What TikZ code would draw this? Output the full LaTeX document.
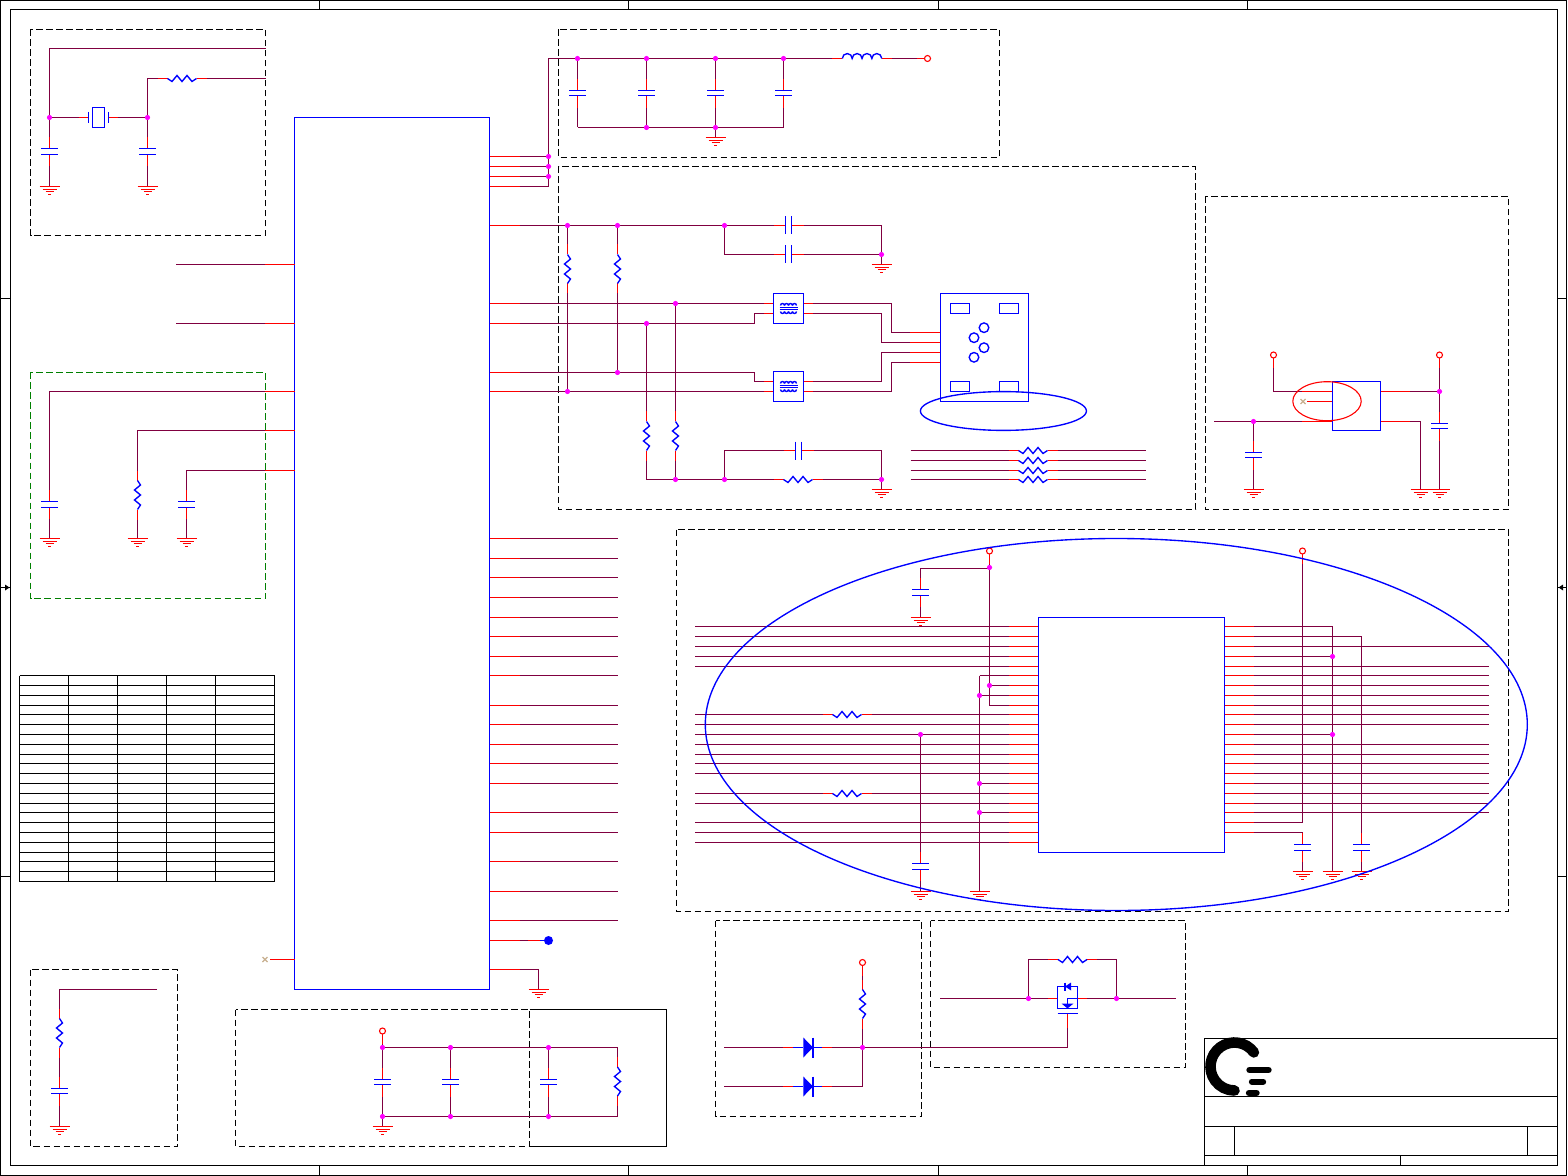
\documentclass[tikz,border=0pt]{standalone}
\definecolor{netc}{RGB}{128,0,64}
\definecolor{xc}{RGB}{200,176,144}
\definecolor{grn}{RGB}{0,128,0}
\definecolor{jnc}{RGB}{255,0,255}
\definecolor{red}{RGB}{255,0,0}
\definecolor{blue}{RGB}{0,0,255}
\tikzset{
 net/.style={draw=netc},
 stub/.style={draw=red},
 sym/.style={draw=blue,line width=0.68pt},
 frame/.style={draw=black},
 dbox/.style={draw=black,dash pattern=on 3.4pt off 1.6pt},
 gbox/.style={draw=grn,dash pattern=on 3.4pt off 1.6pt},
 pics/gndsym/.style={code={
  \draw[stub] (-10,0)--(10,0) (-7,3)--(7,3) (-4,5)--(4,5) (-1.5,8)--(1.5,8);}},
 pics/capv/.style={code={
  \draw[stub] (0,-14.5)--(0,-3) (0,3)--(0,14.5);
  \draw[sym] (-8.5,-3)--(8.5,-3) (-8.5,3)--(8.5,3);}},
 pics/capw/.style={code={
  \draw[stub] (0,-14.5)--(0,-3) (0,2)--(0,14.5);
  \draw[sym] (-8.5,-3)--(8.5,-3) (-8.5,2)--(8.5,2);}},
 pics/caph/.style={code={
  \draw[stub] (-15,0)--(-3,0) (3,0)--(15,0);
  \draw[sym] (-3,-9)--(-3,9) (3,-9)--(3,9);}},
 pics/resh/.style={code={
  \draw[stub] (-24.5,0)--(-14.5,0) (14.5,0)--(24.5,0);
  \draw[sym] (-14.5,0)--(-10,3)--(-5,-3)--(0,3)--(5,-3)--(10,3)--(14.5,0);}},
 pics/diodesym/.style={code={
  \draw[stub] (-24.7,0)--(-14.7,0) (14.3,0)--(24.3,0);
  \draw[sym] (-14.7,0)--(-4.7,0) (5,0)--(14.3,0) (5,-10)--(5,10);
  \fill[blue] (-4.7,-10)--(5,0)--(-4.7,10)--cycle;}},
 pics/xfmr/.style={code={
  \draw[stub] (-24.5,-5)--(-15,-5) (-24.5,5)--(-15,5) (15,-5)--(24.5,-5) (15,5)--(24.5,5);
  \draw[sym] (-15,-15)rectangle(15,15);
  \draw[sym] (-9,-1)--(9,-1) (-9,1)--(9,1);
  \foreach \k in {-8,-4,0,4}{
   \draw[sym] (\k,-3) arc[start angle=180,end angle=360,radius=2];
   \draw[sym] (\k,3) arc[start angle=180,end angle=0,radius=2];}}},
 pics/jn/.style={code={\fill[jnc] (0,0) circle[radius=2.6];}},
 pics/termd/.style={code={
  \draw[stub] (0,3)--(0,13);
  \draw[stub,fill=white] (0,0) circle[radius=3];}},
 pics/xmk/.style={code={\draw[xc] (-2.5,-2.5)--(2.5,2.5) (-2.5,2.5)--(2.5,-2.5);}},
}
\begin{document}
\begin{tikzpicture}[x=0.5pt,y=-0.5pt,line width=0.55pt]
\useasboundingbox (0,0) rectangle (1568,1176);
\fill[white] (0,0) rectangle (1568,1176);
% sheet frame
\draw[frame] (0.5,0.5) rectangle (1566.5,1175.5);
\draw[frame] (10.5,9.5) rectangle (1557.5,1165.5);
\foreach \x in {319.5,628.5,938.5,1247.5}{\draw[frame] (\x,0.5)--(\x,9.5) (\x,1165.5)--(\x,1175.5);}
\foreach \y in {298.5,876.5}{\draw[frame] (0.5,\y)--(10.5,\y) (1557.5,\y)--(1566.5,\y);}
\draw[frame] (0.5,587.5)--(10.5,587.5) (1557.5,587.5)--(1566.5,587.5);
\fill[black] (5,584.5)--(9.5,587.5)--(5,590.5)--cycle;
\fill[black] (1563,584.5)--(1558.5,587.5)--(1563,590.5)--cycle;
% title block
\draw[frame] (1204.5,1038.5) rectangle (1557.5,1165.5);
\draw[frame] (1204.5,1096.5)--(1557.5,1096.5) (1204.5,1126.5)--(1557.5,1126.5) (1204.5,1155.5)--(1557.5,1155.5);
\draw[frame] (1234.5,1126.5)--(1234.5,1155.5) (1527.5,1126.5)--(1527.5,1155.5) (1400.5,1155.5)--(1400.5,1165.5);
\draw[black,line width=5.3pt,line cap=round] (1253.9,1052.4) arc[start angle=-36,end angle=-270,radius=24];
\draw[black,line width=3.2pt,line cap=round] (1249.5,1070)--(1268.5,1070) (1252,1081.7)--(1263,1081.7) (1249,1093)--(1256.5,1093);
% table
\foreach \y in {675.5,685.5,695.5,705.5,714.5,724.5,734.5,744.5,754.5,763.5,773.5,783.5,793.5,803.5,812.5,822.5,832.5,842.5,852.5,861.5,871.5,881.5}
 {\draw[frame] (19.5,\y)--(274.5,\y);}
\foreach \x in {19.5,68.5,117.5,166.5,215.5,274.5}{\draw[frame] (\x,675.5)--(\x,881.5);}
% dashed groups
\draw[dbox] (30.5,29.5) rectangle (265.5,235.5);
\draw[gbox] (30.5,372.5) rectangle (265.5,598.5);
\draw[dbox] (30.5,969.5) rectangle (177.5,1146.5);
\draw[dbox] (235.5,1009.5) rectangle (529.5,1146.5);
\draw[frame] (529.5,1009.5)--(666.5,1009.5)--(666.5,1146.5)--(529.5,1146.5);
\draw[dbox] (558.5,29.5) rectangle (999.5,157.5);
\draw[dbox] (558.5,166.5) rectangle (1195.5,509.5);
\draw[dbox] (1205.5,196.5) rectangle (1508.5,509.5);
\draw[dbox] (676.5,529.5) rectangle (1508.5,911.5);
\draw[dbox] (715.5,920.5) rectangle (921.5,1116.5);
\draw[dbox] (930.5,920.5) rectangle (1185.5,1067.5);
% main IC
\draw[sym] (294.5,117.5) rectangle (489.5,989.5);
% crystal block
\draw[net] (265.5,48.5)--(49.5,48.5)--(49.5,137) (49.5,166)--(49.5,186.5) (49.5,117.5)--(78.5,117.5) (117.5,117.5)--(147.5,117.5)
 (147.5,137)--(147.5,78.5)--(157.5,78.5) (206.5,78.5)--(265.5,78.5) (147.5,166)--(147.5,186.5);
\pic at (49.5,151.5) {capv}; \pic at (147.5,151.5) {capv};
\pic at (49.5,186.5) {gndsym}; \pic at (147.5,186.5) {gndsym};
\pic at (182,78.5) {resh};
\draw[stub] (78.5,117.5)--(88.5,117.5) (108.5,117.5)--(117.5,117.5);
\draw[sym] (88.5,112)--(88.5,123) (108.5,112)--(108.5,123) (92.5,107.5) rectangle (104.5,127.5);
\pic at (49.5,117.5) {jn}; \pic at (147.5,117.5) {jn};
% left side pins
\draw[net] (176,264.5)--(264.5,264.5) (176,323.5)--(264.5,323.5);
\draw[stub] (264.5,264.5)--(294.5,264.5) (264.5,323.5)--(294.5,323.5);
\draw[net] (49.5,490)--(49.5,391.5)--(264.5,391.5) (137.5,470.5)--(137.5,430.5)--(264.5,430.5) (186.5,490)--(186.5,470.5)--(264.5,470.5);
\draw[stub] (264.5,391.5)--(294.5,391.5) (264.5,430.5)--(294.5,430.5) (264.5,470.5)--(294.5,470.5);
\draw[net] (49.5,519)--(49.5,538.5) (137.5,519.5)--(137.5,538.5) (186.5,519)--(186.5,538.5);
\pic at (49.5,504.5) {capv}; \pic at (186.5,504.5) {capv};
\pic[rotate=90] at (137.5,495) {resh};
\pic at (49.5,538.5) {gndsym}; \pic at (137.5,538.5) {gndsym}; \pic at (186.5,538.5) {gndsym};
% right side bus pins
\foreach \y in {538.5,558.5,577.5,597.5,617.5,636.5,656.5,675.5,705.5,724.5,744.5,763.5,783.5,812.5,832.5,861.5,891.5,920.5}
 {\draw[net] (519.5,\y)--(617.7,\y); \draw[stub] (489.5,\y)--(519.5,\y);}
\draw[stub] (489.5,940.5)--(519.5,940.5) (528,940.5)--(540,940.5);
\draw[net] (519.5,940.5)--(528,940.5);
\draw[sym] (540,940.5)--(548,940.5);
\fill[blue] (548.5,940.5) circle[radius=4.5];
\draw[stub] (489.5,969.5)--(520,969.5);
\draw[net] (520,969.5)--(538.5,969.5)--(538.5,989.5);
\pic at (538.5,989.5) {gndsym};
\draw[stub] (270,959.5)--(294.5,959.5);
\pic at (265,959.5) {xmk};
% power filter
\foreach \y in {156.5,166.5,176.5,186.5,225.5,303.5,323.5,372.5,391.5}{\draw[stub] (489.5,\y)--(519.5,\y);}
\draw[net] (519.5,156.5)--(548.5,156.5) (519.5,166.5)--(548.5,166.5) (519.5,176.5)--(548.5,176.5) (519.5,186.5)--(548.5,186.5)--(548.5,58.5)--(832,58.5)
 (892,58.5)--(917,58.5);
\draw[stub] (917,58.5)--(924,58.5);
\draw[stub,fill=white] (927.5,58.5) circle[radius=3];
\draw[stub] (832,58.5)--(842.3,58.5) (881.7,58.5)--(892,58.5);
\draw[sym] (842.3,58.5) arc[start angle=180,end angle=360,radius=4.93] arc[start angle=180,end angle=360,radius=4.93] arc[start angle=180,end angle=360,radius=4.93] arc[start angle=180,end angle=360,radius=4.93];
\foreach \x in {577.5,646.5,715.5,783.5}{
 \draw[net] (\x,58.5)--(\x,79) (\x,108)--(\x,127.5);
 \pic at (\x,93.5) {capw};
 \pic at (\x,58.5) {jn};}
\draw[net] (577.5,127.5)--(783.5,127.5) (715.5,127.5)--(715.5,137.5);
\pic at (646.5,127.5) {jn}; \pic at (715.5,127.5) {jn}; \pic at (715.5,137.5) {gndsym};
\pic at (548.5,156.5) {jn}; \pic at (548.5,166.5) {jn}; \pic at (548.5,176.5) {jn};
% port block
\draw[net] (519.5,225.5)--(773.5,225.5) (803.5,225.5)--(881.5,225.5)--(881.5,264.5)
 (724.5,225.5)--(724.5,254.5)--(773.5,254.5) (803.5,254.5)--(881.5,254.5);
\pic at (788.5,225.5) {caph}; \pic at (788.5,254.5) {caph};
\pic at (881.5,264.5) {gndsym};
\draw[net] (567.5,225.5)--(567.5,244.5) (567.5,293.5)--(567.5,391.5) (617.5,225.5)--(617.5,244.5) (617.5,293.5)--(617.5,372.5);
\pic[rotate=90] at (567.5,269) {resh}; \pic[rotate=90] at (617.5,269) {resh};
\draw[net] (519.5,303.5)--(764,303.5) (813,303.5)--(891.5,303.5)--(891.5,332.5)--(910,332.5)
 (519.5,323.5)--(754.5,323.5)--(754.5,313.5)--(764,313.5) (813,313.5)--(881.5,313.5)--(881.5,342.5)--(910,342.5)
 (519.5,372.5)--(754.5,372.5)--(754.5,381.5)--(764,381.5) (813,381.5)--(881.5,381.5)--(881.5,352.5)--(910,352.5)
 (519.5,391.5)--(764,391.5) (813,391.5)--(891.5,391.5)--(891.5,362.5)--(910,362.5);
\pic at (788.5,308.5) {xfmr}; \pic at (788.5,386.5) {xfmr};
\foreach \y in {332.5,342.5,352.5,362.5}{\draw[stub] (910,\y)--(940.5,\y);}
\draw[sym] (940.5,293.5) rectangle (1028.5,401.5);
\draw[sym] (950.5,303.5) rectangle (969.5,313.5) (999.5,303.5) rectangle (1018.5,313.5) (950.5,381.5) rectangle (969.5,391.5) (999.5,381.5) rectangle (1018.5,391.5);
\draw[sym] (984,327.7) circle[radius=4.8] (974,337.7) circle[radius=4.8] (984,347.7) circle[radius=4.8] (974,357.3) circle[radius=4.8];
\draw[sym] (1003.4,411) ellipse[x radius=83,y radius=19.4];
\draw[net] (646.5,323.5)--(646.5,411.5) (646.5,460.5)--(646.5,479.5)--(773.5,479.5) (822.5,479.5)--(881.5,479.5)--(881.5,489.5)
 (675.5,303.5)--(675.5,411.5) (675.5,460.5)--(675.5,479.5)
 (724.5,479.5)--(724.5,450.5)--(783.5,450.5) (813.5,450.5)--(881.5,450.5)--(881.5,479.5);
\pic[rotate=90] at (646.5,436) {resh}; \pic[rotate=90] at (675.5,436) {resh};
\pic at (798,479.5) {resh}; \pic at (798.5,450.5) {caph};
\pic at (881.5,489.5) {gndsym};
\foreach \y in {450.5,460.5,470.5,479.5}{
 \draw[net] (910.5,\y)--(1008.5,\y) (1057.5,\y)--(1145.8,\y);
 \pic at (1033,\y) {resh};}
\foreach \x/\y in {567.5/225.5,617.5/225.5,724.5/225.5,881.5/254.5,675.5/303.5,646.5/323.5,617.5/372.5,567.5/391.5,675.5/479.5,724.5/479.5,881.5/479.5}
 {\pic at (\x,\y) {jn};}
% regulator block
\draw[net] (1273.5,365)--(1273.5,391.5)--(1302,391.5) (1214,421.5)--(1302,421.5) (1253.5,421.5)--(1253.5,441) (1253.5,470)--(1253.5,489.5)
 (1410,391.5)--(1439.5,391.5) (1439.5,365)--(1439.5,412) (1439.5,441)--(1439.5,489.5) (1410,421.5)--(1420.5,421.5)--(1420.5,489.5);
\draw[stub] (1302,391.5)--(1332.5,391.5) (1307,401.5)--(1332.5,401.5) (1302,421.5)--(1332.5,421.5) (1380.5,391.5)--(1410,391.5) (1380.5,421.5)--(1410,421.5);
\pic at (1303,401.5) {xmk};
\draw[sym] (1332.5,381.5) rectangle (1380.5,430.5);
\draw[red] (1327,401.2) ellipse[x radius=34.2,y radius=19.5];
\pic at (1273.5,355) {termd}; \pic at (1439.5,355) {termd};
\pic at (1253.5,455.5) {capw}; \pic at (1439.5,426.5) {capw};
\pic at (1253.5,489.5) {gndsym}; \pic at (1420.5,489.5) {gndsym}; \pic at (1439.5,489.5) {gndsym};
\pic at (1253.5,421.5) {jn}; \pic at (1439.5,391.5) {jn};
% memory block, left pins
\foreach \y in {626.5,636.5,646.5,656.5,666.5,724.5,734.5,744.5,754.5,763.5,773.5,803.5,822.5,832.5,842.5}
 {\draw[net] (695,\y)--(1009,\y); \draw[stub] (1009,\y)--(1038.5,\y);}
\foreach \y in {714.5,793.5}
 {\draw[net] (695,\y)--(822.5,\y) (871.5,\y)--(1009,\y); \draw[stub] (1009,\y)--(1038.5,\y);
  \pic at (847,\y) {resh};}
\foreach \x/\y in {979.5/675.5,989.5/685.5,979.5/695.5,989.5/705.5,979.5/783.5,979.5/812.5}
 {\draw[net] (\x,\y)--(1009,\y); \draw[stub] (1009,\y)--(1038.5,\y);}
\draw[net] (989.5,561)--(989.5,705.5) (979.5,675.5)--(979.5,891.5) (989.5,568.5)--(920.5,568.5)--(920.5,578) (920.5,607)--(920.5,617.5)
 (920.5,734.5)--(920.5,852) (920.5,881)--(920.5,891.5);
\pic at (920.5,592.5) {capv}; \pic at (920.5,866.5) {capv};
\pic at (989.5,551) {termd};
\pic at (920.5,617.5) {gndsym}; \pic at (920.5,891.5) {gndsym}; \pic at (979.5,891.5) {gndsym};
\foreach \x/\y in {989.5/567.5,989.5/685.5,979.5/695.5,920.5/734.5,979.5/783.5,979.5/812.5}{\pic at (\x,\y) {jn};}
\draw[sym] (1038.5,617.5) rectangle (1224.5,852.5);
% memory block, right pins
\foreach \y in {626.5,636.5,646.5,656.5,666.5,675.5,685.5,695.5,705.5,714.5,724.5,734.5,744.5,754.5,763.5,773.5,783.5,793.5,803.5,812.5,822.5,832.5}
 {\draw[stub] (1224.5,\y)--(1254,\y);}
\foreach \y in {646.5,666.5,675.5,685.5,695.5,705.5,714.5,724.5,744.5,754.5,763.5,773.5,783.5,793.5,803.5,812.5}
 {\draw[net] (1254,\y)--(1489,\y);}
\draw[net] (1254,626.5)--(1332.5,626.5)--(1332.5,871.5) (1254,656.5)--(1332.5,656.5) (1254,734.5)--(1332.5,734.5)
 (1254,636.5)--(1361.5,636.5)--(1361.5,833) (1361.5,862)--(1361.5,871.5)
 (1302.5,561)--(1302.5,822.5)--(1254,822.5) (1254,832.5)--(1302.5,832.5) (1302.5,862)--(1302.5,871.5);
\pic at (1302.5,551) {termd};
\pic at (1302.5,847.5) {capv}; \pic at (1361.5,847.5) {capv};
\pic at (1302.5,871.5) {gndsym}; \pic at (1332.5,871.5) {gndsym}; \pic at (1361.5,871.5) {gndsym};
\pic at (1332.5,656.5) {jn}; \pic at (1332.5,734.5) {jn};
\draw[sym] (1116.3,724.5) ellipse[x radius=411,y radius=186];
% reset block
\draw[net] (157,989.5)--(59.5,989.5)--(59.5,1008.5) (59.5,1057.5)--(59.5,1077) (59.5,1106)--(59.5,1126.5);
\pic[rotate=90] at (59.5,1033) {resh}; \pic at (59.5,1091.5) {capw}; \pic at (59.5,1126.5) {gndsym};
% decoupling block
\draw[net] (382.5,1041)--(382.5,1068) (382.5,1047.5)--(617.5,1047.5)--(617.5,1057) (382.5,1097)--(382.5,1126.5)
 (450.5,1047.5)--(450.5,1068) (450.5,1097)--(450.5,1116.5) (548.5,1047.5)--(548.5,1068) (548.5,1097)--(548.5,1116.5)
 (382.5,1116.5)--(617.5,1116.5)--(617.5,1106);
\foreach \x in {382.5,450.5,548.5}{\pic at (\x,1082.5) {capw}; \pic at (\x,1047.5) {jn}; \pic at (\x,1116.5) {jn};}
\pic[rotate=90] at (617.5,1081.5) {resh};
\pic at (382.5,1031) {termd}; \pic at (382.5,1126.5) {gndsym};
% diode block
\draw[net] (862.5,975)--(862.5,979.5) (862.5,1028.5)--(862.5,1047.5) (724,1047.5)--(783.3,1047.5) (832.3,1047.5)--(1067.5,1047.5)--(1067.5,1028)
 (724,1086.5)--(783.3,1086.5) (832.3,1086.5)--(862.5,1086.5)--(862.5,1047.5);
\pic at (862.5,962.5) {termd};
\pic[rotate=90] at (862.5,1004) {resh};
\pic at (808,1047.5) {diodesym}; \pic at (808,1086.5) {diodesym};
\pic at (862.5,1047.5) {jn};
% mosfet block
\draw[net] (940,998.5)--(1048,998.5) (1087,998.5)--(1175.7,998.5) (1028.5,998.5)--(1028.5,959.5)--(1048,959.5) (1097,959.5)--(1116.5,959.5)--(1116.5,998.5);
\pic at (1072.5,959.5) {resh};
\draw[stub] (1048,998.5)--(1057.5,998.5) (1077.5,998.5)--(1087,998.5) (1067.5,1028)--(1067.5,1013.5);
\draw[sym] (1057.5,986.5) rectangle (1077.5,1008.5) (1057.5,1013.5)--(1077.5,1013.5) (1065,982.5)--(1065,990.5) (1077.5,998.5)--(1067.5,998.5)--(1067.5,1003.5);
\fill[blue] (1065,986.5)--(1071,982.5)--(1071,990.5)--cycle (1061.5,1003.5)--(1073.5,1003.5)--(1067.5,1008.5)--cycle;
\pic at (1028.5,998.5) {jn}; \pic at (1116.5,998.5) {jn};
\end{tikzpicture}
\end{document}
